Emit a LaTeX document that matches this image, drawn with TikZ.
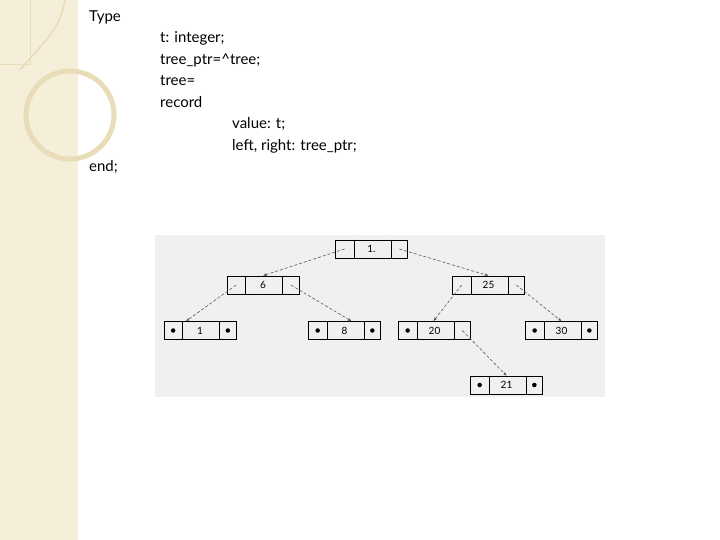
\documentclass[tikz,border=0pt]{standalone}
\usepackage{fontspec}
\setmainfont{Lato}
\usetikzlibrary{arrows.meta,calc}
\definecolor{beige}{HTML}{F5EED8}
\definecolor{beigeline}{HTML}{E8DDB8}
\begin{document}
\begin{tikzpicture}[x=1pt,y=-1pt,
  txt/.style={anchor=west,inner sep=0pt,font=\fontsize{15}{17}\selectfont},
  cell/.style={draw=black,line width=0.7pt,minimum width=72pt,minimum height=18pt,inner sep=0pt,font=\fontsize{10}{11}\selectfont\rmfamily},
  link/.style={densely dashed,gray!70!black,line width=0.6pt,-{Stealth[length=4pt,width=3pt]}},
  dotm/.style={circle,fill=black,inner sep=0pt,minimum size=4.5pt}]
\useasboundingbox (0,0) rectangle (720,540);
\fill[white] (0,0) rectangle (720,540);
\fill[beige] (0,0) rectangle (78,540);
\draw[beigeline,line width=5pt] (70,115) circle (44);
\draw[beigeline,line width=1pt] (0,65) -- (30,65) -- (30,0);
\draw[beigeline,line width=1.5pt] (20,70) .. controls (45,40) and (60,30) .. (65,0);
\node[txt] (ty) at (89,17) {Type};
\node[txt] (l1) at (160,38) {t: integer;};
\node[txt] (l2) at (160,60) {tree\_ptr=\^{}tree;};
\node[txt] (l3) at (160,81) {tree=};
\node[txt] (l4) at (160,102) {record};
\node[txt] (l5) at (232,124) {value: t;};
\node[txt] (l6) at (232,146) {left, right: tree\_ptr;};
\node[txt] (en) at (89,167) {end;};
\fill[gray!12] (155,235) rectangle (605,397);
\newcommand{\rec}[6]{%
  \node[cell] (#1) at (#2,#3) {#4};
  \draw[line width=0.7pt] ($(#1.north west)+(19,0)$) -- ($(#1.south west)+(19,0)$);
  \draw[line width=0.7pt] ($(#1.north east)+(-17,0)$) -- ($(#1.south east)+(-17,0)$);
  \coordinate (#1L) at ($(#1.west)+(9.5,0)$);
  \coordinate (#1R) at ($(#1.east)+(-8.5,0)$);
  \ifx#5d\node[dotm] at (#1L) {};\fi
  \ifx#6d\node[dotm] at (#1R) {};\fi}
\rec{r}{371.5}{249}{1.}{n}{n}
\rec{a}{263}{285}{6}{n}{n}
\rec{b}{488.5}{285}{25}{n}{n}
\rec{c}{200}{330.5}{1}{d}{d}
\rec{d}{344.5}{330.5}{8}{d}{d}
\rec{e}{434.5}{330.5}{20}{d}{n}
\rec{f}{561.5}{330.5}{30}{d}{d}
\rec{g}{506.5}{385}{21}{d}{d}
\draw[link] (rL) -- (a.north);
\draw[link] (rR) -- (b.north);
\draw[link] (aL) -- ($(c.north)+(-14,0)$);
\draw[link] (aR) -- ($(d.north)+(7,0)$);
\draw[link] (bL) -- ($(e.north)+(-1,0)$);
\draw[link] (bR) -- (f.north);
\draw[link] (eR) -- (g.north);
\end{tikzpicture}
\end{document}
